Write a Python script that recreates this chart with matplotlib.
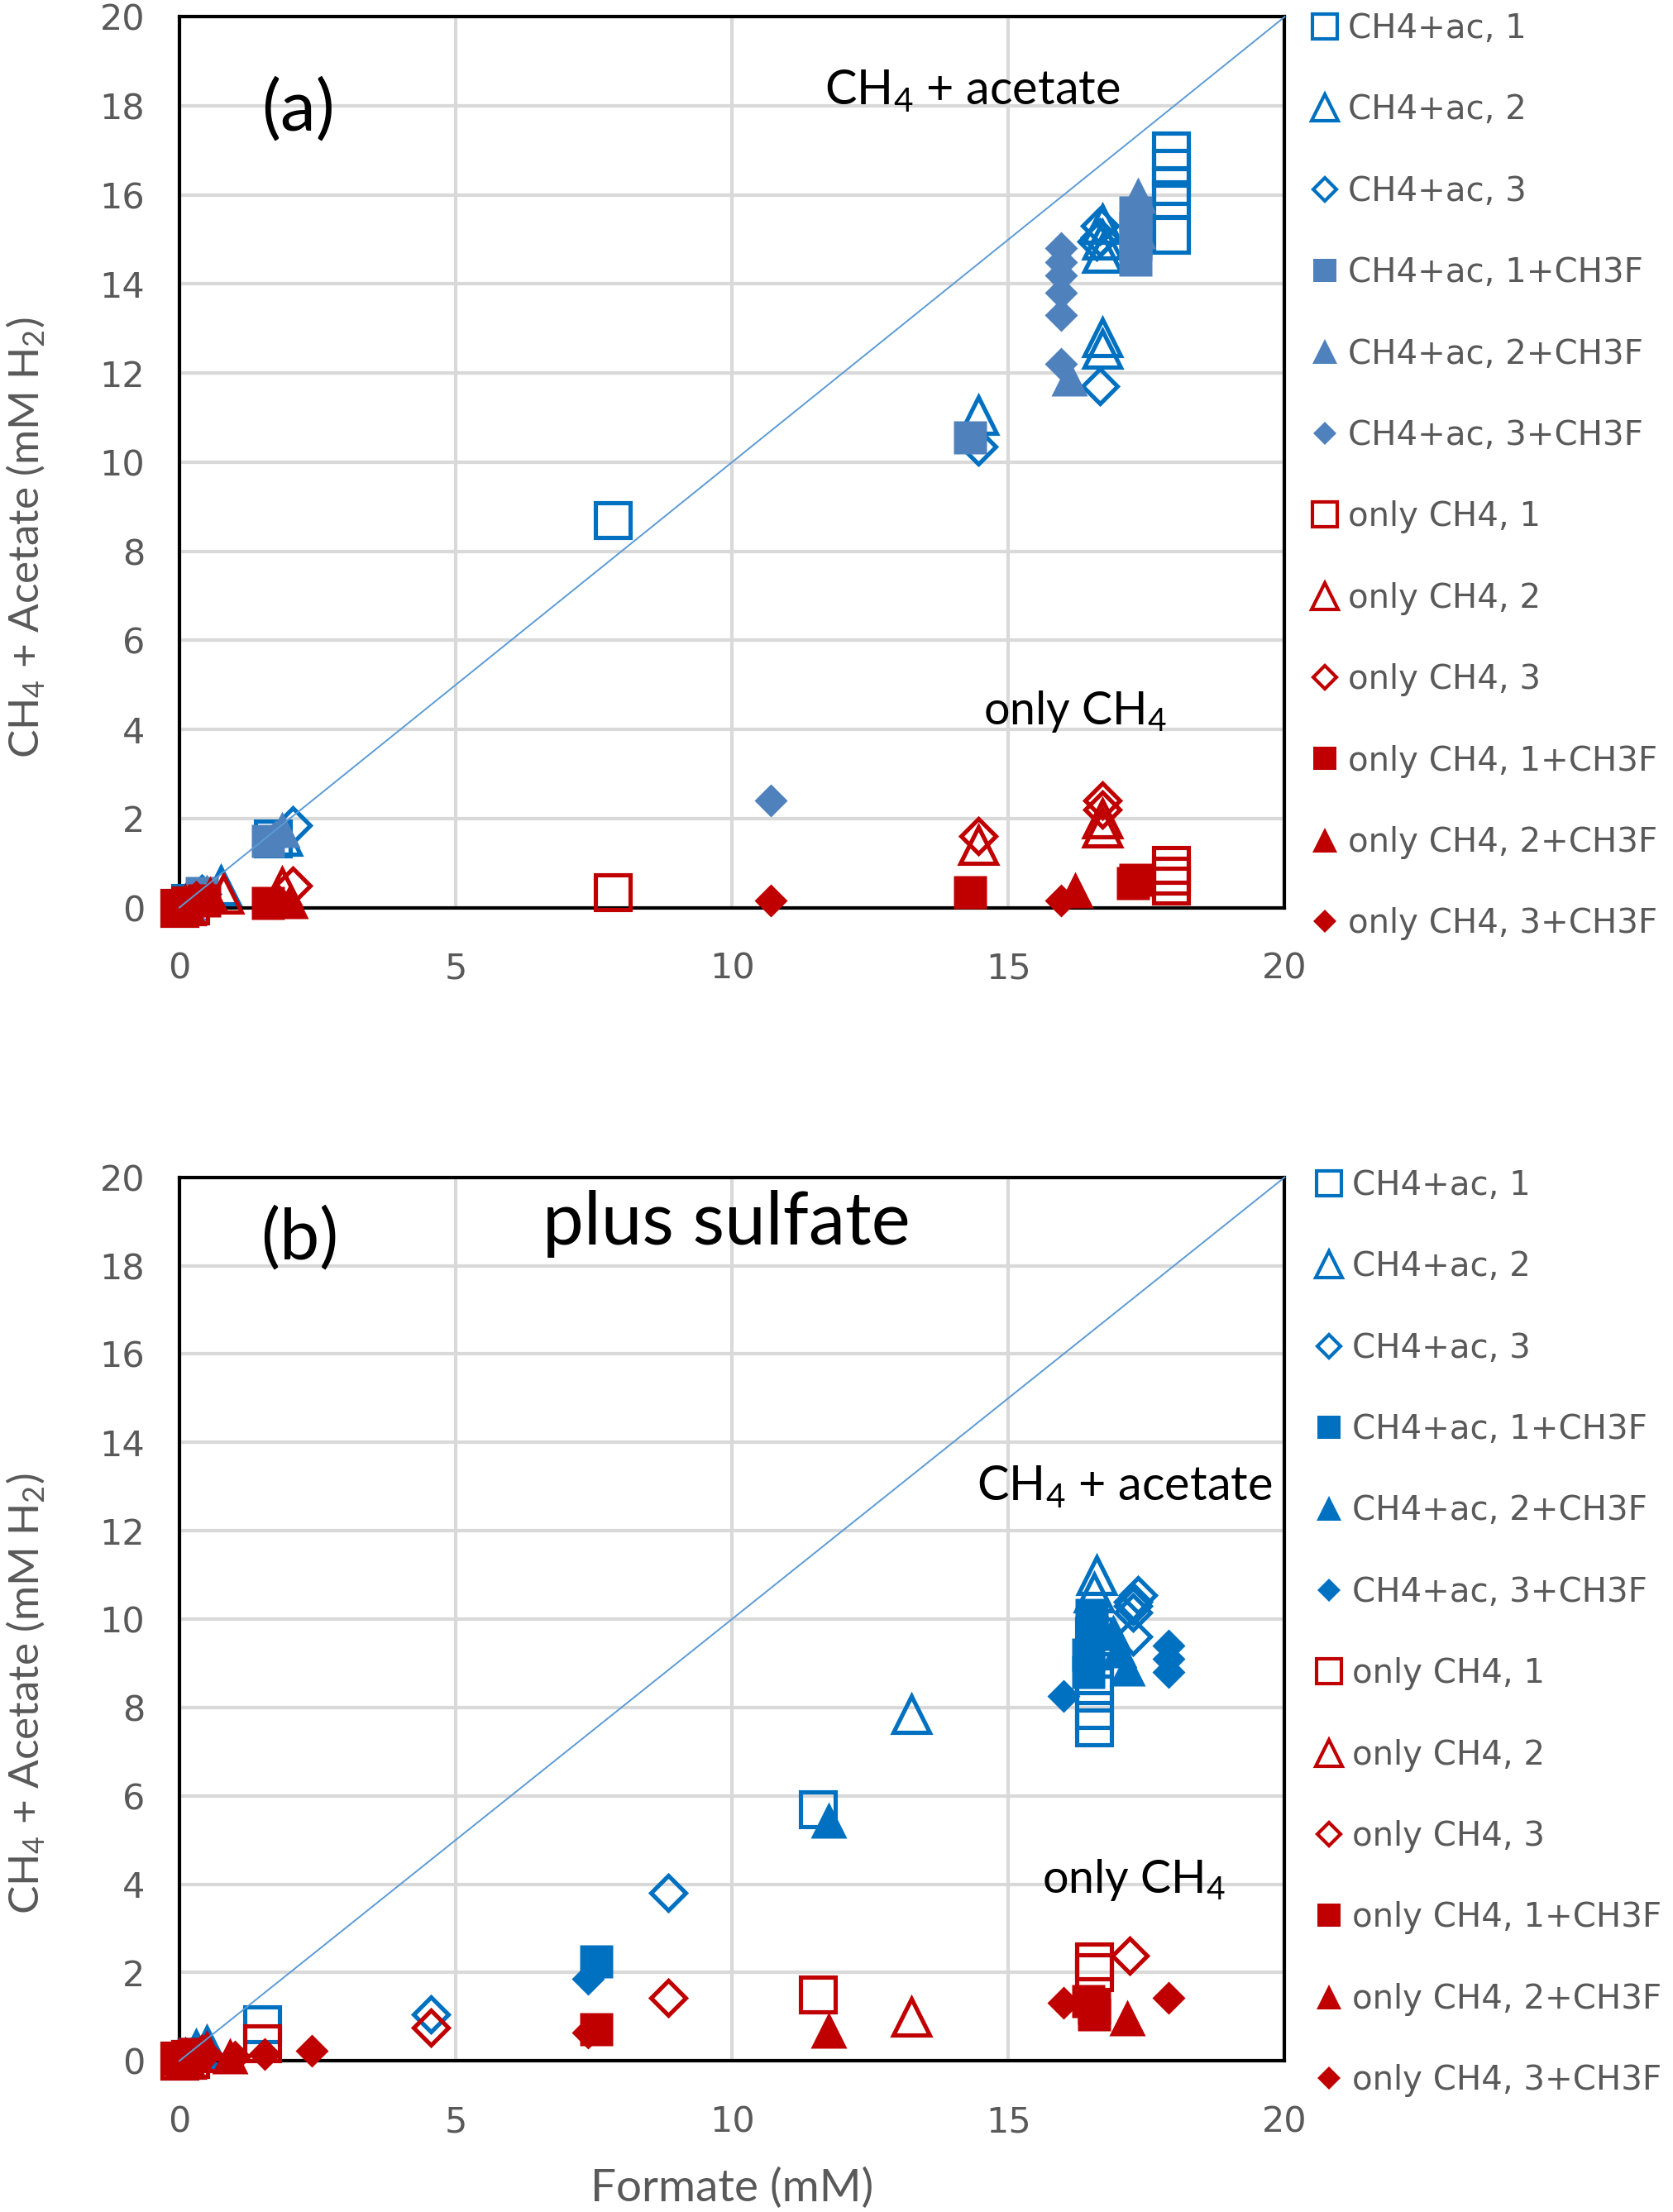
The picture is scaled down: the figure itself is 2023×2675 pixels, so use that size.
import matplotlib
matplotlib.use("Agg")
import matplotlib.pyplot as plt

# colours
BLUE = "#0070C0"
BLUE_A = "#4F81BD"   # filled blue markers in panel (a)
RED = "#C00000"
GRAY = "#595959"
LINE = "#5B9BD5"

labels = ["CH4+ac, 1", "CH4+ac, 2", "CH4+ac, 3",
          "CH4+ac, 1+CH3F", "CH4+ac, 2+CH3F", "CH4+ac, 3+CH3F",
          "only CH4, 1", "only CH4, 2", "only CH4, 3",
          "only CH4, 1+CH3F", "only CH4, 2+CH3F", "only CH4, 3+CH3F"]

x_ticks = [0, 5, 10, 15, 20]
y_ticks = [0, 2, 4, 6, 8, 10, 12, 14, 16, 18, 20]

# ---- panel (a): no sulfate ----
a_ac1_x = [0, 0.2, 1.7, 7.85, 17.95, 17.95, 17.95, 17.95, 17.95]
a_ac1_y = [0, 0.1, 1.55, 8.7, 15.1, 15.9, 16.2, 16.6, 17.0]
a_ac2_x = [0.1, 0.75, 1.85, 14.45, 16.7, 16.7, 16.7, 16.7, 16.7]
a_ac2_y = [0.05, 0.5, 1.6, 11.05, 12.55, 12.8, 14.7, 15.0, 15.35]
a_ac3_x = [0.1, 0.4, 2.05, 14.45, 16.65, 16.6, 16.65, 16.65]
a_ac3_y = [0.1, 0.3, 1.85, 10.35, 11.7, 14.95, 15.05, 15.3]
a_ac1f_x = [0.05, 0.4, 1.6, 14.3, 17.3, 17.3, 17.3, 17.3]
a_ac1f_y = [0.05, 0.33, 1.5, 10.55, 14.55, 14.9, 15.25, 15.6]
a_ac2f_x = [0.15, 0.5, 1.85, 16.1, 17.35, 17.35]
a_ac2f_y = [0.1, 0.35, 1.75, 11.9, 15.2, 16.0]
a_ac3f_x = [0.1, 0.3, 1.75, 10.7, 15.95, 15.95, 15.95, 15.95, 15.95, 15.95]
a_ac3f_y = [0.05, 0.2, 1.6, 2.4, 12.2, 13.3, 13.8, 14.2, 14.5, 14.8]
a_m1_x = [0, 0.2, 7.85, 17.95, 17.95, 17.95]
a_m1_y = [0, 0.05, 0.35, 0.5, 0.72, 0.95]
a_m2_x = [0.1, 0.8, 1.85, 14.45, 16.7, 16.7]
a_m2_y = [0.05, 0.3, 0.45, 1.4, 1.8, 2.0]
a_m3_x = [0.1, 0.3, 2.05, 14.45, 16.7, 16.7]
a_m3_y = [0.05, 0.15, 0.5, 1.6, 2.2, 2.4]
a_m1f_x = [0, 0.45, 1.6, 14.3, 17.25, 17.3]
a_m1f_y = [0, 0.15, 0.1, 0.35, 0.55, 0.62]
a_m2f_x = [0.1, 0.55, 2.0, 16.2]
a_m2f_y = [0.05, 0.3, 0.15, 0.4]
a_m3f_x = [0.05, 0.35, 1.8, 10.7, 15.95]
a_m3f_y = [0.05, 0.15, 0.15, 0.15, 0.15]

# ---- panel (b): plus sulfate ----
b_ac1_x = [0, 0.2, 1.5, 11.55, 16.55, 16.55, 16.55, 16.55, 16.55]
b_ac1_y = [0, 0.05, 0.83, 5.7, 7.55, 7.95, 8.5, 9.1, 9.6]
b_ac2_x = [0.1, 0.3, 0.5, 13.25, 16.55, 16.6]
b_ac2_y = [0.05, 0.25, 0.35, 7.85, 10.6, 11.0]
b_ac3_x = [0.1, 0.3, 4.55, 8.85, 17.25, 17.25, 17.25, 17.25, 17.35]
b_ac3_y = [0.05, 0.2, 1.05, 3.8, 9.6, 10.15, 10.3, 10.4, 10.55]
b_ac1f_x = [0.05, 0.25, 7.55, 16.45, 16.45, 16.5, 16.5]
b_ac1f_y = [0.05, 0.15, 2.25, 8.8, 9.2, 9.7, 10.1]
b_ac2f_x = [0.1, 0.4, 11.75, 16.9, 17.0, 17.15]
b_ac2f_y = [0.05, 0.2, 5.45, 9.7, 9.3, 8.9]
b_ac3f_x = [0.05, 0.3, 7.4, 16.0, 17.9, 17.9, 17.9]
b_ac3f_y = [0.05, 0.2, 1.85, 8.25, 8.8, 9.1, 9.4]
b_m1_x = [0, 0.2, 1.5, 11.55, 16.55, 16.55]
b_m1_y = [0, 0.05, 0.4, 1.5, 2.0, 2.25]
b_m2_x = [0.1, 0.5, 13.25]
b_m2_y = [0.05, 0.2, 1.0]
b_m3_x = [0.1, 0.4, 4.55, 8.85, 17.2]
b_m3_y = [0.05, 0.15, 0.75, 1.43, 2.38]
b_m1f_x = [0, 0.27, 7.55, 16.45, 16.55, 16.55]
b_m1f_y = [0.05, 0.15, 0.72, 1.35, 1.2, 1.05]
b_m2f_x = [0.1, 0.92, 11.75, 17.15]
b_m2f_y = [0.05, 0.12, 0.7, 0.98]
b_m3f_x = [0.05, 0.5, 1.0, 1.55, 2.4, 7.4, 16.0, 17.9]
b_m3f_y = [0.05, 0.15, 0.1, 0.15, 0.23, 0.65, 1.32, 1.43]

panel_a = [(a_ac1_x, a_ac1_y), (a_ac2_x, a_ac2_y), (a_ac3_x, a_ac3_y),
           (a_ac1f_x, a_ac1f_y), (a_ac2f_x, a_ac2f_y), (a_ac3f_x, a_ac3f_y),
           (a_m1_x, a_m1_y), (a_m2_x, a_m2_y), (a_m3_x, a_m3_y),
           (a_m1f_x, a_m1f_y), (a_m2f_x, a_m2f_y), (a_m3f_x, a_m3f_y)]
panel_b = [(b_ac1_x, b_ac1_y), (b_ac2_x, b_ac2_y), (b_ac3_x, b_ac3_y),
           (b_ac1f_x, b_ac1f_y), (b_ac2f_x, b_ac2f_y), (b_ac3f_x, b_ac3f_y),
           (b_m1_x, b_m1_y), (b_m2_x, b_m2_y), (b_m3_x, b_m3_y),
           (b_m1f_x, b_m1f_y), (b_m2f_x, b_m2f_y), (b_m3f_x, b_m3f_y)]

shapes = ["s", "^", "D"] * 4
filled = [False] * 3 + [True] * 3 + [False] * 3 + [True] * 3
sizes = {"s": 30, "^": 32, "D": 21}

plt.rcParams["font.family"] = ["DejaVu Sans"]
plt.rcParams["mathtext.fontset"] = "custom"
plt.rcParams["mathtext.rm"] = "Lato"
plt.rcParams["mathtext.it"] = "Lato:italic"
plt.rcParams["mathtext.bf"] = "Lato:bold"

fig = plt.figure(figsize=(20.23, 26.75), dpi=100)
ax_a = fig.add_axes([0.1072, 0.5897, 0.6607, 0.4027])
ax_b = fig.add_axes([0.1072, 0.0683, 0.6607, 0.3995])


def draw_panel(ax, series, blue_fill, leg_x):
    for i, (xs, ys) in enumerate(series):
        col = BLUE if i < 6 else RED
        m = shapes[i]
        if filled[i]:
            fc = blue_fill if i < 6 else RED
            ax.plot(xs, ys, linestyle="none", marker=m, markersize=sizes[m] - 1,
                    markerfacecolor=fc, markeredgecolor="none",
                    label=labels[i], clip_on=False, zorder=3 + i * 0.01)
        else:
            ax.plot(xs, ys, linestyle="none", marker=m, markersize=sizes[m],
                    markerfacecolor="none", markeredgecolor=col, markeredgewidth=3.7,
                    label=labels[i], clip_on=False, zorder=3 + i * 0.01)
    # 1:1 line
    ax.plot([0, 20], [0, 20], color=LINE, lw=1.4, zorder=4, clip_on=False)

    ax.set_xlim(0, 20)
    ax.set_ylim(0, 20)
    ax.set_xticks(x_ticks)
    ax.set_yticks(y_ticks)
    ax.grid(True, color="#D9D9D9", lw=3)
    ax.set_axisbelow(True)
    ax.tick_params(length=0, labelsize=31, labelcolor=GRAY)
    ax.tick_params(axis="y", pad=30)
    ax.tick_params(axis="x", pad=38)
    for s in ax.spines.values():
        s.set_linewidth(3)
        s.set_color("black")
        s.set_zorder(2.5)
    ax.set_ylabel("CH$_4$ + Acetate (mM H$_2$)", fontsize=37, color=GRAY,
                  family="Lato", va="center")
    ax.yaxis.set_label_coords(-0.139, 0.415)
    leg = ax.legend(loc="center left", bbox_to_anchor=(leg_x, 0.484), frameon=False,
                    fontsize=29, markerscale=0.7, handlelength=0.8,
                    handletextpad=0.3, labelspacing=1.45, borderpad=0,
                    borderaxespad=0, labelcolor=GRAY)
    for h in leg.legend_handles:
        h.set_markeredgewidth(3)


draw_panel(ax_a, panel_a, BLUE_A, 1.024)
draw_panel(ax_b, panel_b, BLUE, 1.028)

ann = dict(family="Lato", color="black", ha="center", va="center")
ax_a.text(2.15, 17.9, "(a)", fontsize=62, **ann)
ax_a.text(14.35, 18.35, "CH$_4$ + acetate", fontsize=41.5, **ann)
ax_a.text(16.2, 4.4, "only CH$_4$", fontsize=40, **ann)

ax_b.text(2.17, 18.6, "(b)", fontsize=62, **ann)
ax_b.text(9.9, 18.95, "plus sulfate", fontsize=64, **ann)
ax_b.text(17.1, 13.0, "CH$_4$ + acetate", fontsize=41.5, **ann)
ax_b.text(17.27, 4.1, "only CH$_4$", fontsize=40, **ann)

ax_b.set_xlabel("Formate (mM)", fontsize=39.5, color=GRAY, family="Lato",
                va="center")
ax_b.xaxis.set_label_coords(0.5, -0.144)

fig.savefig("out.png", dpi=100)
